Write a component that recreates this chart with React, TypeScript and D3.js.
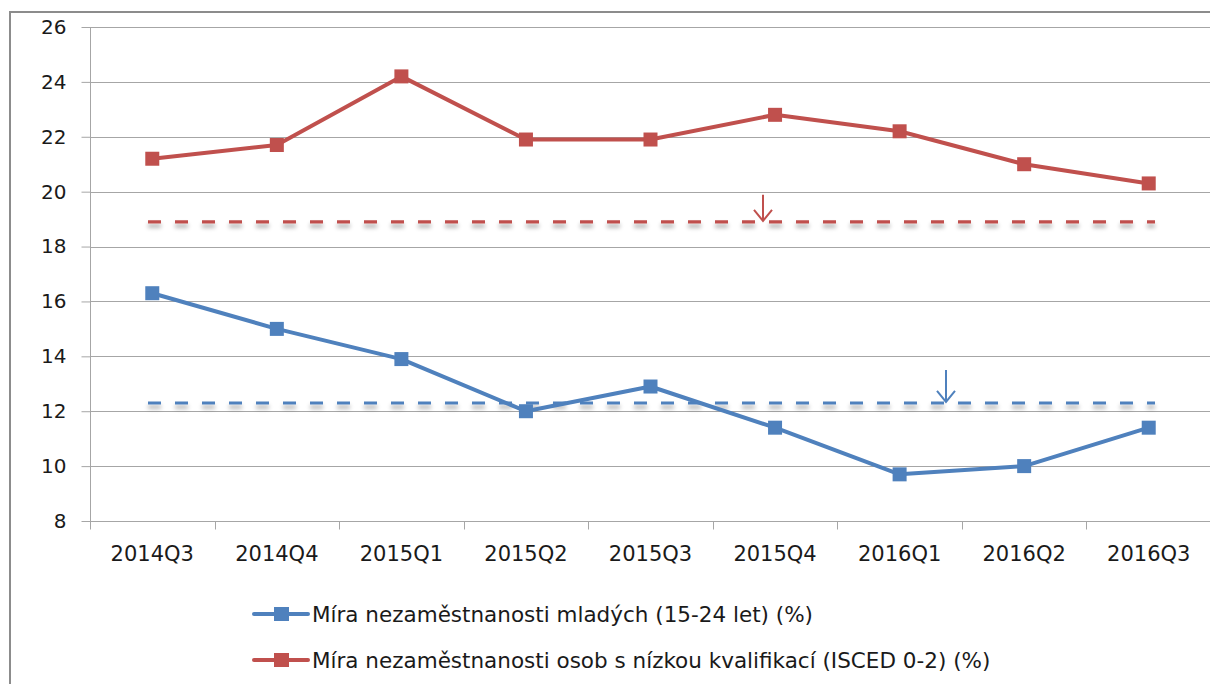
import React, { useEffect, useRef } from 'react';
import * as d3 from 'd3';

const quarters = ['2014Q3', '2014Q4', '2015Q1', '2015Q2', '2015Q3', '2015Q4', '2016Q1', '2016Q2', '2016Q3'];
const youth = [16.3, 15.0, 13.9, 12.0, 12.9, 11.4, 9.7, 10.0, 11.4];
const lowSkilled = [21.2, 21.7, 24.2, 21.9, 21.9, 22.8, 22.2, 21.0, 20.3];
const youthAvg = 12.3;
const lowSkilledAvg = 18.9;
const yTicks = [8, 10, 12, 14, 16, 18, 20, 22, 24, 26];
const seriesNames = [
  'Míra nezaměstnanosti mladých (15-24 let) (%)',
  'Míra nezaměstnanosti osob s nízkou kvalifikací (ISCED 0-2) (%)',
];

const BLUE = '#4f81bd';
const RED = '#c0504d';

export default function App() {
  const ref = useRef<SVGSVGElement>(null);

  useEffect(() => {
    const svg = d3.select(ref.current);
    svg.selectAll('*').remove();
    const font = 'DejaVu Sans, sans-serif';

    const left = 90, right = 1211, top = 27, bottom = 521;
    const x = d3.scaleBand().domain(quarters).range([left, right]);
    const y = d3.scaleLinear().domain([8, 26]).range([bottom, top]);
    const cx = (q: string) => (x(q) as number) + x.bandwidth() / 2;

    const defs = svg.append('defs');
    const f = defs.append('filter').attr('id', 'shadow').attr('filterUnits', 'userSpaceOnUse')
      .attr('x', 0).attr('y', 0).attr('width', 1210).attr('height', 684);
    f.append('feDropShadow').attr('dx', 0).attr('dy', 4).attr('stdDeviation', 2)
      .attr('flood-color', '#000').attr('flood-opacity', 0.35);

    // outer frame
    svg.append('rect').attr('x', 10).attr('y', 12).attr('width', 1230).attr('height', 700)
      .attr('fill', 'none').attr('stroke', '#8c8c8c').attr('stroke-width', 2);

    // gridlines
    svg.append('g').selectAll('line').data(yTicks.slice(1)).enter().append('line')
      .attr('x1', left).attr('x2', right)
      .attr('y1', d => Math.round(y(d)) + 0.5).attr('y2', d => Math.round(y(d)) + 0.5)
      .attr('stroke', '#a6a6a6').attr('stroke-width', 1);

    // y axis
    const ya = svg.append('g').attr('transform', `translate(${left + 0.5},0)`)
      .call(d3.axisLeft(y).tickValues(yTicks).tickSize(9).tickPadding(15));
    ya.select('.domain').attr('stroke', '#a6a6a6').attr('d', `M0,${top}V${bottom + 8}`);
    ya.selectAll('line').attr('stroke', '#a6a6a6');
    ya.selectAll('text').attr('font-family', font).attr('font-size', 20).attr('fill', '#1a1a1a');

    // x axis
    const xa = svg.append('g').attr('transform', `translate(0,${Math.round(y(8)) + 0.5})`);
    xa.append('line').attr('x1', left).attr('x2', right).attr('stroke', '#a6a6a6');
    const bounds = quarters.map(q => x(q) as number);
    xa.selectAll('line.tk').data(bounds).enter().append('line').attr('class', 'tk')
      .attr('x1', d => Math.round(d) + 0.5).attr('x2', d => Math.round(d) + 0.5)
      .attr('y1', 0).attr('y2', 8).attr('stroke', '#a6a6a6');
    xa.selectAll('text').data(quarters).enter().append('text')
      .attr('x', d => cx(d)).attr('y', 39).attr('text-anchor', 'middle')
      .attr('font-family', font).attr('font-size', 21).attr('fill', '#1a1a1a').text(d => d);

    // average dashed lines
    const avgs = [
      { v: lowSkilledAvg, c: RED },
      { v: youthAvg, c: BLUE },
    ];
    svg.append('g').selectAll('line').data(avgs).enter().append('line')
      .attr('x1', 148).attr('x2', 1155)
      .attr('y1', d => y(d.v)).attr('y2', d => y(d.v))
      .attr('stroke', d => d.c).attr('stroke-width', 3.2)
      .attr('stroke-dasharray', '13,14').attr('filter', 'url(#shadow)');

    // arrows
    const arrows = [
      { x: 763, v: lowSkilledAvg, len: 26, c: RED },
      { x: 946, v: youthAvg, len: 32, c: BLUE },
    ];
    arrows.forEach(a => {
      const yEnd = y(a.v) - 1;
      svg.append('path')
        .attr('d', `M${a.x},${yEnd - a.len}V${yEnd}M${a.x - 9},${yEnd - 11}L${a.x},${yEnd}L${a.x + 9},${yEnd - 11}`)
        .attr('fill', 'none').attr('stroke', a.c).attr('stroke-width', 2);
    });

    // series
    const series = [
      { vals: lowSkilled, c: RED },
      { vals: youth, c: BLUE },
    ];
    const line = d3.line<number>().x((_, i) => cx(quarters[i])).y(d => y(d));
    series.forEach(s => {
      svg.append('path').attr('d', line(s.vals)).attr('fill', 'none')
        .attr('stroke', s.c).attr('stroke-width', 4).attr('stroke-linejoin', 'round');
      svg.append('g').selectAll('rect').data(s.vals).enter().append('rect')
        .attr('x', (_, i) => cx(quarters[i]) - 7).attr('y', d => y(d) - 7)
        .attr('width', 14).attr('height', 14).attr('fill', s.c);
    });

    // legend
    const legend = [
      { name: seriesNames[0], c: BLUE, y: 614 },
      { name: seriesNames[1], c: RED, y: 660 },
    ];
    legend.forEach(l => {
      const g = svg.append('g');
      g.append('line').attr('x1', 254).attr('x2', 308).attr('y1', l.y).attr('y2', l.y)
        .attr('stroke', l.c).attr('stroke-width', 4).attr('stroke-linecap', 'round');
      g.append('rect').attr('x', 274).attr('y', l.y - 7).attr('width', 15).attr('height', 14).attr('fill', l.c);
      g.append('text').attr('x', 312).attr('y', l.y + 8).attr('font-family', font)
        .attr('font-size', 21.5).attr('fill', '#1a1a1a').text(l.name);
    });
  }, []);

  return (
    <svg ref={ref} width={1210} height={684}
      style={{ position: 'absolute', left: 0, top: 0, background: '#fff' }} />
  );
}
